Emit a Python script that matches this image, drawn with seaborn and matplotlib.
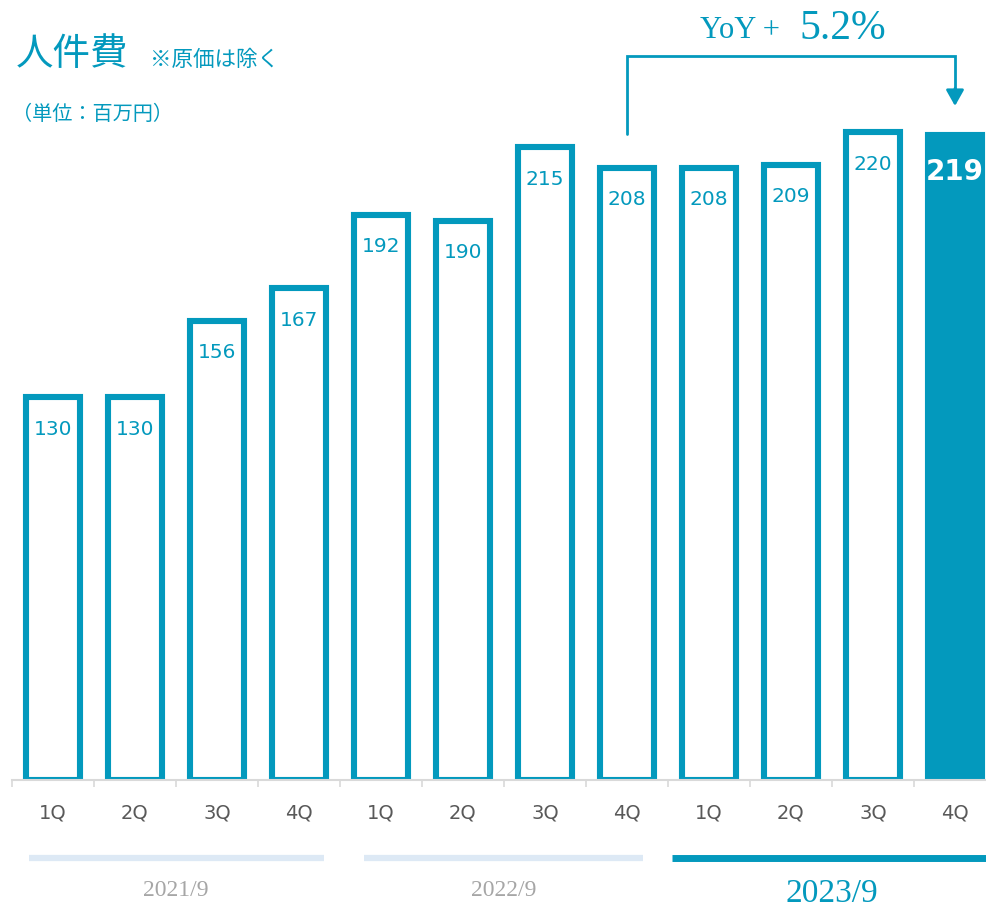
import numpy as np
import pandas as pd
import matplotlib
matplotlib.use('Agg')
import matplotlib.pyplot as plt
import seaborn as sns

# data
fiscal_years = ['2021/9', '2022/9', '2023/9']
quarters = ['1Q', '2Q', '3Q', '4Q']
values = [130, 130, 156, 167, 192, 190, 215, 208, 208, 209, 220, 219]
yoy_label = '5.2%'

teal = '#0399bd'
light = '#dde9f5'
gray_txt = '#595959'

periods = [f'{fy} {q}' for fy in fiscal_years for q in quarters]
df = pd.DataFrame({'period': periods, 'value': values})

sns.set_theme(style='white')
plt.rcParams['font.family'] = ['DejaVu Sans', 'Noto Sans CJK JP']

fig = plt.figure(figsize=(9.86, 9.09), dpi=100)
ax = fig.add_axes([12 / 986, 129 / 909, 984 / 986, 780 / 909])

sns.barplot(data=df, x='period', y='value', ax=ax, width=0.66, color='white',
            saturation=1, edgecolor=teal, linewidth=4.4)
ax.patches[-1].set_facecolor(teal)

ax.set_xlim(-0.5, 11.5)
ax.set_ylim(0, 265)

# value labels inside the bars
for i, v in enumerate(values):
    last = i == len(values) - 1
    ax.annotate(str(v), (i, v), xytext=(0, -26 if last else -23),
                textcoords='offset points',
                ha='center', va='center', fontsize=20 if last else 14.5,
                color='white' if last else teal,
                fontweight='bold' if last else 'normal')

# axis styling
for s in ['left', 'top', 'right']:
    ax.spines[s].set_visible(False)
ax.spines['bottom'].set_color('#d9d9d9')
ax.spines['bottom'].set_linewidth(1.5)
ax.set_yticks([])
ax.set_xlabel('')
ax.set_ylabel('')
ax.set_xticks(range(len(values)))
ax.set_xticklabels(quarters * len(fiscal_years), fontsize=14, color=gray_txt)
ax.set_xticks(np.arange(-0.5, len(values), 1), minor=True)
ax.tick_params(axis='x', which='major', length=0, pad=17)
ax.tick_params(axis='x', which='minor', length=5, width=1.2, color='#d9d9d9',
               direction='out', bottom=True)

# fiscal year bands under the axis
spans = [(-0.29, 3.3), (3.79, 7.2), (7.55, 11.5)]
for k, fy in enumerate(fiscal_years):
    current = k == len(fiscal_years) - 1
    x0, x1 = spans[k]
    ax.plot([x0, x1], [-26.5, -26.5], color=teal if current else light,
            lw=5 if current else 4.5, solid_capstyle='butt', clip_on=False)
    ax.text(4 * k + 1.5, -37.5 if not current else -38.5, fy, ha='center', va='center',
            family=['Liberation Serif', 'DejaVu Serif'],
            fontsize=24 if current else 17,
            color=teal if current else '#a6a6a6')

# YoY bracket
ax.plot([7, 7, 11, 11], [219.5, 246, 246, 234], color=teal, lw=2,
        clip_on=False, solid_joinstyle='miter')
ax.annotate('', xy=(11, 229), xytext=(11, 235),
            arrowprops=dict(arrowstyle='-|>,head_length=0.8,head_width=0.45',
                            color=teal, lw=2, shrinkA=0, shrinkB=0),
            annotation_clip=False)
fig.text(788 / 986, 1 - 30 / 909, 'YoY + ', ha='right', va='center',
         family=['Liberation Serif', 'DejaVu Serif'], fontsize=22, color=teal)
fig.text(799 / 986, 1 - 29 / 909, yoy_label, ha='left', va='center',
         family=['Liberation Serif', 'DejaVu Serif'], fontsize=30, color=teal)

# titles
fig.text(16 / 986, 1 - 54 / 909, '人件費', ha='left', va='center',
         family=['Noto Sans CJK JP'], fontsize=27, color=teal)
fig.text(150 / 986, 1 - 60 / 909, '※原価は除く', ha='left', va='center',
         family=['Noto Sans CJK JP'], fontsize=15.5, color=teal)
fig.text(12 / 986, 1 - 115 / 909, '（単位：百万円）', ha='left', va='center',
         family=['Noto Sans CJK JP'], fontsize=14.5, color=teal)

fig.savefig('out.png', dpi=100)
